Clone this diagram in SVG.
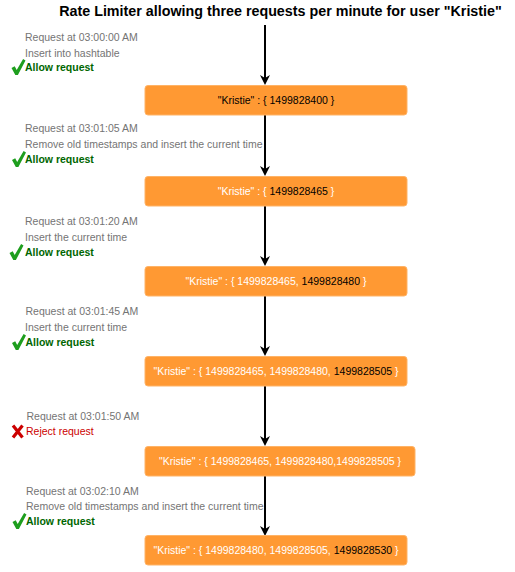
<svg xmlns="http://www.w3.org/2000/svg" width="515" height="572" viewBox="0 0 515 572">
<style>
.t{font-family:"Liberation Sans",Arial,sans-serif;font-size:10.5px}
.g{fill:#747474}
.ok{fill:#006600;font-weight:bold}
.no{fill:#CC0000}
.box{fill:#FF9933;stroke:#FFB366;stroke-width:1}
.bt{font-family:"Liberation Sans",Arial,sans-serif;font-size:10.5px;text-anchor:middle;fill:#ffffff}
.k{fill:#000000}
.edge{stroke:#000;stroke-width:2;fill:none;marker-end:url(#ah)}
</style>
<defs>
<marker id="ah" markerUnits="userSpaceOnUse" viewBox="0 0 10 10" markerWidth="10" markerHeight="10" refX="4" refY="5" orient="auto">
<path d="M0,0 L10,5 L0,10 L3,5 Z" fill="#000"/>
</marker>
<path id="chk" d="M0,9 L3.2,7.2 L5.2,11 L11.6,0 L14,1.6 L6.4,16 L3.8,16 Z" fill="#1E9E1E"/>
</defs>
<rect width="515" height="572" fill="#ffffff"/>
<text x="280.5" y="16" text-anchor="middle" font-family="'Liberation Sans',Arial,sans-serif" font-size="14.3" font-weight="bold" fill="#000">Rate Limiter allowing three requests per minute for user "Kristie"</text>
<g id="connectors">
<line class="edge" x1="265" y1="25" x2="265" y2="79"/>
<line class="edge" x1="265" y1="115" x2="265" y2="170"/>
<line class="edge" x1="265" y1="206" x2="265" y2="260"/>
<line class="edge" x1="265" y1="296" x2="265" y2="350"/>
<line class="edge" x1="265" y1="386" x2="265" y2="440"/>
<line class="edge" x1="265" y1="476" x2="265" y2="530"/>
</g>
<g id="node1">
<rect class="box" x="145" y="85.5" width="262" height="29.5" rx="3"/>
<text class="bt" x="276" y="104"><tspan class="k">"Kristie" : { 1499828400 }</tspan></text>
</g>
<g id="node2">
<rect class="box" x="145" y="176.5" width="262" height="29.5" rx="3"/>
<text class="bt" x="276" y="195">"Kristie" : { <tspan class="k">1499828465</tspan> }</text>
</g>
<g id="node3">
<rect class="box" x="145" y="266.5" width="262" height="29.5" rx="3"/>
<text class="bt" x="276" y="285">"Kristie" : { 1499828465, <tspan class="k">1499828480</tspan> }</text>
</g>
<g id="node4">
<rect class="box" x="145" y="356.5" width="262" height="29.5" rx="3"/>
<text class="bt" x="276" y="375">"Kristie" : { 1499828465, 1499828480, <tspan class="k">1499828505</tspan> }</text>
</g>
<g id="node5">
<rect class="box" x="145" y="446.5" width="270" height="29.5" rx="3"/>
<text class="bt" x="280" y="465">"Kristie" : { 1499828465, 1499828480,1499828505 }</text>
</g>
<g id="node6">
<rect class="box" x="145" y="535.5" width="262" height="29.5" rx="3"/>
<text class="bt" x="276" y="554">"Kristie" : { 1499828480, 1499828505, <tspan class="k">1499828530</tspan> }</text>
</g>
<g id="note1">
<text class="t g" x="25" y="41">Request at 03:00:00 AM</text>
<text class="t g" x="25" y="57">Insert into hashtable</text>
<use href="#chk" x="11.5" y="59"/>
<text class="t ok" x="25" y="71">Allow request</text>
</g>
<g id="note2">
<text class="t g" x="25" y="132">Request at 03:01:05 AM</text>
<text class="t g" x="25" y="148">Remove old timestamps and insert the current time</text>
<use href="#chk" x="12" y="151"/>
<text class="t ok" x="25" y="163">Allow request</text>
</g>
<g id="note3">
<text class="t g" x="25" y="225">Request at 03:01:20 AM</text>
<text class="t g" x="25" y="241">Insert the current time</text>
<use href="#chk" x="9.5" y="244"/>
<text class="t ok" x="25" y="256">Allow request</text>
</g>
<g id="note4">
<text class="t g" x="25.5" y="315">Request at 03:01:45 AM</text>
<text class="t g" x="25" y="331">Insert the current time</text>
<use href="#chk" x="12" y="334"/>
<text class="t ok" x="25.5" y="346">Allow request</text>
</g>
<g id="note5">
<text class="t g" x="26.5" y="420">Request at 03:01:50 AM</text>
<path d="M13,425.5 L22.5,437.5 M22.5,425.5 L13,437.5" stroke="#CC0000" stroke-width="3.2" fill="none"/>
<text class="t no" x="26" y="435">Reject request</text>
</g>
<g id="note6">
<text class="t g" x="26" y="495">Request at 03:02:10 AM</text>
<text class="t g" x="26" y="510">Remove old timestamps and insert the current time</text>
<use href="#chk" x="12.5" y="513"/>
<text class="t ok" x="26" y="525">Allow request</text>
</g>
</svg>
